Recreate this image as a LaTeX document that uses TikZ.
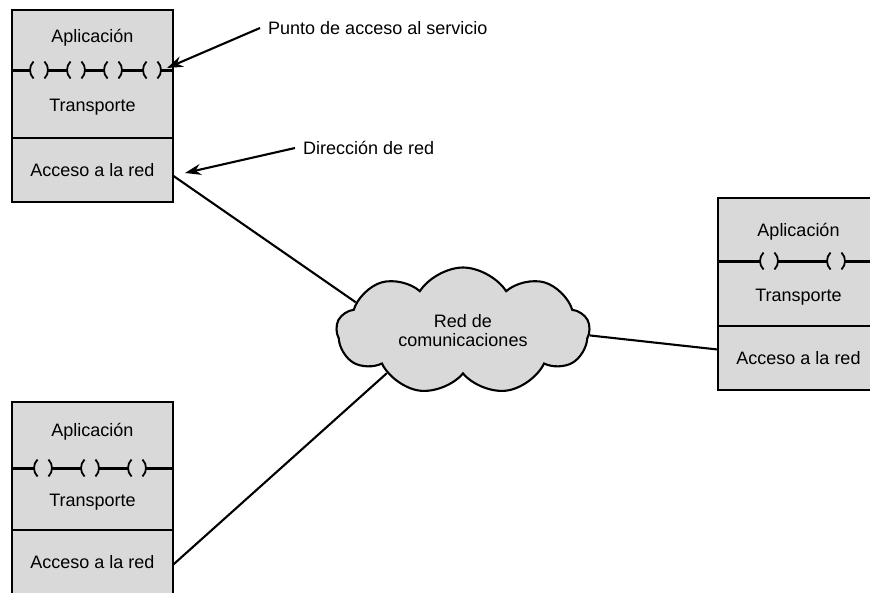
\documentclass[tikz,border=0pt]{standalone}
\usepackage{fontspec}
\setmainfont{Liberation Sans}
\usetikzlibrary{shapes.symbols,arrows.meta}

\tikzset{
  layer/.style={draw, line width=2.8pt, fill=black!15, minimum width=161pt, inner sep=0pt, outer sep=0pt},
  lbl/.style={font=\fontsize{18}{19}\selectfont, inner sep=0pt},
  note/.style={lbl, anchor=west, inner sep=8pt},
  link/.style={line width=2.1pt},
  pointer/.style={line width=2.1pt, -{Stealth[length=16pt,width=11pt]}},
  sapline/.style={line width=3pt},
  sap/.pic={
    \fill[black!15] (-8,-2) rectangle (8,2);
    \draw[line width=1.8pt] (-5.49,8.49) arc[start angle=135,end angle=225,radius=12];
    \draw[line width=1.8pt] (5.49,-8.49) arc[start angle=-45,end angle=45,radius=12];
  }
}

\begin{document}
\begin{tikzpicture}[x=1pt,y=-1pt]
      \clip (0,0) rectangle (870,592);

      % host arriba izquierda
      \node[layer, minimum height=128pt] (h1up) at (92.5,74) {};
      \node[layer, minimum height=64pt, anchor=north, lbl] (h1acc) at (h1up.south) {Acceso a la red};
      \node[lbl] (h1app) at (92.5,38) {Aplicación};
      \node[lbl] (h1tra) at (92.5,107) {Transporte};
      \draw[sapline] (12,70) -- (173,70); % puntos de acceso
      \foreach \c in {39,76,113,152}
        \pic at (\c,70) {sap};

      % host abajo izquierda
      \node[layer, minimum height=128pt] (h2up) at (92.5,466) {};
      \node[layer, minimum height=64pt, anchor=north, lbl] (h2acc) at (h2up.south) {Acceso a la red};
      \node[lbl] (h2app) at (92.5,432) {Aplicación};
      \node[lbl] (h2tra) at (92.5,502) {Transporte};
      \draw[sapline] (12,468) -- (173,468);
      \foreach \c in {43,90,137}
        \pic at (\c,468) {sap};

      % host derecha
      \node[layer, minimum height=128pt] (h3up) at (798.5,262) {};
      \node[layer, minimum height=64pt, anchor=north, lbl] (h3acc) at (h3up.south) {Acceso a la red};
      \node[lbl] (h3app) at (798.5,232) {Aplicación};
      \node[lbl] (h3tra) at (798.5,297) {Transporte};
      \draw[sapline] (718,261) -- (879,261);
      \foreach \c in {769,836}
        \pic at (\c,261) {sap};

      % red
      \node[cloud, draw, line width=2.1pt, fill=black!15, cloud puffs=9, cloud puff arc=115,
            aspect=2, minimum width=253pt, minimum height=127pt, lbl, align=center] (net)
            at (463,331) {Red de\\comunicaciones};

      \draw[link] (h1acc.-4) -- (net.165);
      \draw[link] (h2acc.-2) -- (net.209);
      \draw[link] (net.-2) -- (h3acc.174);

      % rotulos
      \node[note] (sap) at (260,28) {Punto de acceso al servicio};
      \coordinate (sapend) at (167,68);
      \draw[pointer] (sap.west) -- (sapend);

      \node[note] (dir) at (295,148) {Dirección de red};
      \coordinate (dirend) at (185,173);
      \draw[pointer] (dir.west) -- (dirend);
\end{tikzpicture}
\end{document}
